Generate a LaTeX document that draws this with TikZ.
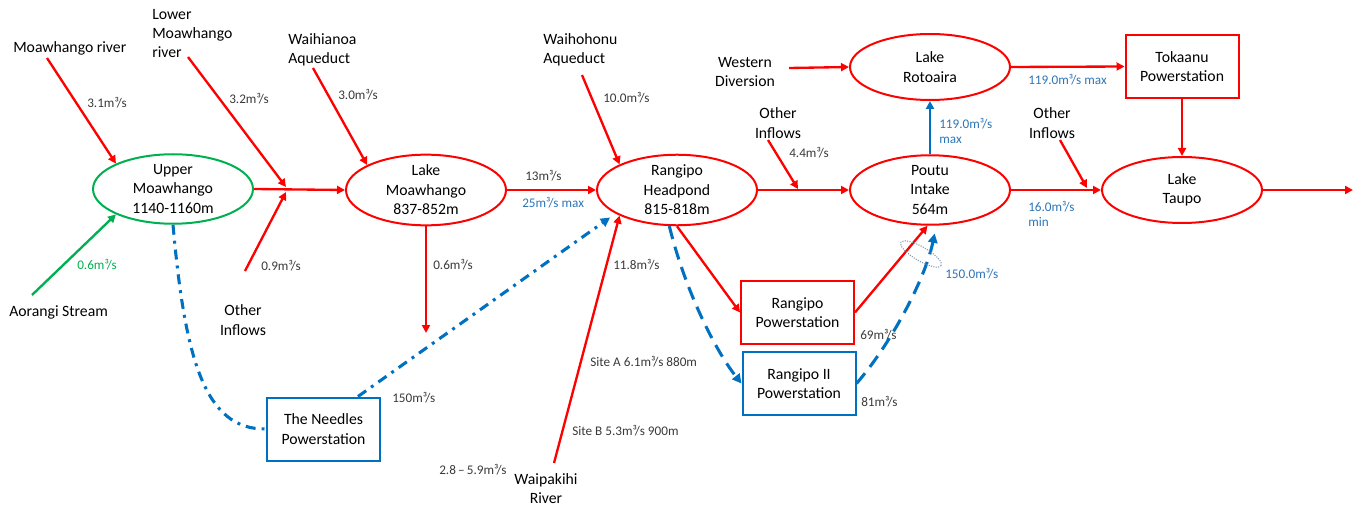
\documentclass[tikz,border=0pt]{standalone}
\usepackage{fontspec}
\setmainfont{Carlito}
\usetikzlibrary{shapes.geometric,arrows.meta,calc}

\definecolor{flowred}{HTML}{FF0000}
\definecolor{flowgreen}{HTML}{00B050}
\definecolor{flowblue}{HTML}{0070C0}
\definecolor{labelblue}{HTML}{2E75B6}
\definecolor{ringgrey}{HTML}{8497B0}
\definecolor{smallgrey}{HTML}{3A3A3A}

\begin{document}
\begin{tikzpicture}[x=0.75pt,y=-0.75pt,
  bigtxt/.style={font=\fontsize{11.8}{14.6}\selectfont, text=black, inner sep=0pt},
  smalltxt/.style={font=\fontsize{9.9}{11.3}\selectfont, text=smallgrey, inner sep=0pt, anchor=west, align=left},
  bluetxt/.style={smalltxt, text=labelblue},
  greentxt/.style={smalltxt, text=flowgreen},
  lake/.style={ellipse, draw=flowred, line width=1.5pt, minimum width=120pt,
    minimum height=49.5pt, inner sep=0pt, align=center, bigtxt},
  station/.style={rectangle, draw=flowred, line width=1.5pt, minimum width=84.75pt,
    minimum height=47.25pt, inner sep=0pt, align=center, bigtxt},
  flow/.style={color=flowred, line width=1.75pt, -{Triangle[length=6pt,width=6pt]}},
  greenflow/.style={flow, color=flowgreen},
  blueflow/.style={flow, color=flowblue},
  dashblue/.style={color=flowblue, line width=2.3pt, dash pattern=on 10pt off 6pt,
    -{Triangle[length=7pt,width=7pt]}},
  dotdashblue/.style={color=flowblue, line width=2.3pt,
    dash pattern=on 7.5pt off 4.5pt on 2.2pt off 4.5pt},
  ring/.style={ellipse, draw=ringgrey, densely dotted, line width=0.8pt, minimum width=35pt,
    minimum height=10.5pt, inner sep=0pt}
]
\useasboundingbox (0,0) rectangle (1363,506);

% ---- lakes and reservoirs ----
\node[lake, draw=flowgreen] (um) at (173,189) {Upper\\Moawhango\\1140-1160m};
\node[lake] (lm) at (426,190) {Lake\\Moawhango\\837-852m};
\node[lake] (hp) at (677,190) {Rangipo\\Headpond\\815-818m};
\node[lake] (pi) at (930,190) {Poutu\\Intake\\564m};
\node[lake] (rot) at (930,67) {Lake\\Rotoaira};
\node[lake] (tp) at (1182,190) {Lake\\Taupo};

% ---- power stations ----
\node[station] (tok) at (1182,66.5) {Tokaanu\\Powerstation};
\node[station] (rps) at (797.5,312.5) {Rangipo\\Powerstation};
\node[station, draw=flowblue] (rii) at (799,383.5) {Rangipo II\\Powerstation};
\node[station, draw=flowblue] (nd) at (323.5,429) {The Needles\\Powerstation};

% ---- source names ----
\node[bigtxt, anchor=west] (mrT) at (13,48) {Moawhango river};
\node[bigtxt, anchor=west, align=left] (lmrT) at (152,33.5) {Lower\\Moawhango\\river};
\node[bigtxt, anchor=west, align=left] (waT) at (288,50) {Waihianoa\\Aqueduct};
\node[bigtxt, anchor=west, align=left] (whT) at (543,50) {Waihohonu\\Aqueduct};
\node[bigtxt, align=center] (wdT) at (745,72) {Western\\Diversion};
\node[bigtxt, align=center] (oi1T) at (243,320) {Other\\Inflows};
\node[bigtxt, align=center] (oi2T) at (778,123) {Other\\Inflows};
\node[bigtxt, align=center] (oi3T) at (1052,123) {Other\\Inflows};
\node[bigtxt, anchor=west] (aoT) at (9,312) {Aorangi Stream};
\node[bigtxt, align=center] (wpT) at (546,488.5) {Waipakihi\\River};

% ---- free ends of inflow arrows ----
\coordinate (mrS) at (47,58);
\coordinate (lmrS) at (188,57);
\coordinate (j) at (286,187);
\coordinate (oi1S) at (245,271);
\coordinate (j2) at (286,192);
\coordinate (aoS) at (32,295);
\coordinate (waS) at (313,68);
\coordinate (lmD) at (426,333);
\coordinate (whS) at (582,75);
\coordinate (wpS) at (554,463);
\coordinate (oi2S) at (768,140);
\coordinate (oi2E) at (798,189);
\coordinate (wdS) at (789,68);
\coordinate (oi3S) at (1060,140);
\coordinate (oi3E) at (1087,188);
\coordinate (out) at (1353,190);

% ---- flows ----
\draw[flow] (mrS) -- (um.156);
\draw[greenflow] (aoS) -- (um.204);
\draw[flow] (um.east) -- (lm.west);
\draw[flow] (lmrS) -- (j);
\draw[flow] (oi1S) -- (j2);
\draw[flow] (waS) -- (lm.157);
\draw[flow] (lm.south) -- (lmD);
\draw[flow] (lm.east) -- (hp.west);
\draw[flow] (whS) -- (hp.156);
\draw[flow] (wpS) -- (hp.204);
\draw[flow] (hp.east) -- (pi.west);
\draw[flow] (oi2S) -- (oi2E);
\draw[flow] (hp.south) -- (rps.west);
\draw[flow] (rps.east) -- (pi.266);
\draw[flow] (wdS) -- (rot.west);
\draw[blueflow] (pi.north) -- (rot.south);
\draw[flow] (rot.east) -- (tok.west);
\draw[flow] (tok.south) -- (tp.north);
\draw[flow] (pi.east) -- (tp.west);
\draw[flow] (oi3S) -- (oi3E);
\draw[flow] (tp.east) -- (out);

% ---- tunnels ----
\draw[dotdashblue] (um.south) .. controls (185,360) and (205,430) .. (nd.west);
\draw[dotdashblue, -{Triangle[length=7pt,width=7pt]}, shorten >=5pt]
  ($(nd.north)+(34.5,0)$) -- (hp.201);
\draw[dashblue] (hp.258) .. controls (685,290) and (715,350) .. (rii.west);
\draw[dashblue, shorten >=6pt] (rii.east) .. controls (890,345) and (925,280) .. (pi.280);
\node[ring, rotate=-30] (rg) at (921,254) {};

% ---- flow rates ----
\node[smalltxt] at (87,103) {3.1m³/s};
\node[smalltxt] at (229,99) {3.2m³/s};
\node[smalltxt] at (338,95) {3.0m³/s};
\node[smalltxt] at (261,266) {0.9m³/s};
\node[greentxt] at (77,265) {0.6m³/s};
\node[smalltxt] at (433,265) {0.6m³/s};
\node[smalltxt] at (525,176) {13m³/s};
\node[bluetxt] at (522,203) {25m³/s max};
\node[smalltxt] at (603,98) {10.0m³/s};
\node[smalltxt] at (613,265) {11.8m³/s};
\node[smalltxt] at (392,398) {150m³/s};
\node[smalltxt] at (590,362) {Site A 6.1m³/s 880m};
\node[smalltxt] at (572,431) {Site B 5.3m³/s 900m};
\node[smalltxt] at (439,470) {2.8\,–\,5.9m³/s};
\node[smalltxt] at (789,153) {4.4m³/s};
\node[bluetxt] at (939,130.5) {119.0m³/s\\max};
\node[bluetxt] at (945,274) {150.0m³/s};
\node[smalltxt] at (860,335) {69m³/s};
\node[smalltxt] at (861,402) {81m³/s};
\node[bluetxt] at (1028,80) {119.0m³/s max};
\node[bluetxt] at (1028,213.5) {16.0m³/s\\min};
\end{tikzpicture}
\end{document}
